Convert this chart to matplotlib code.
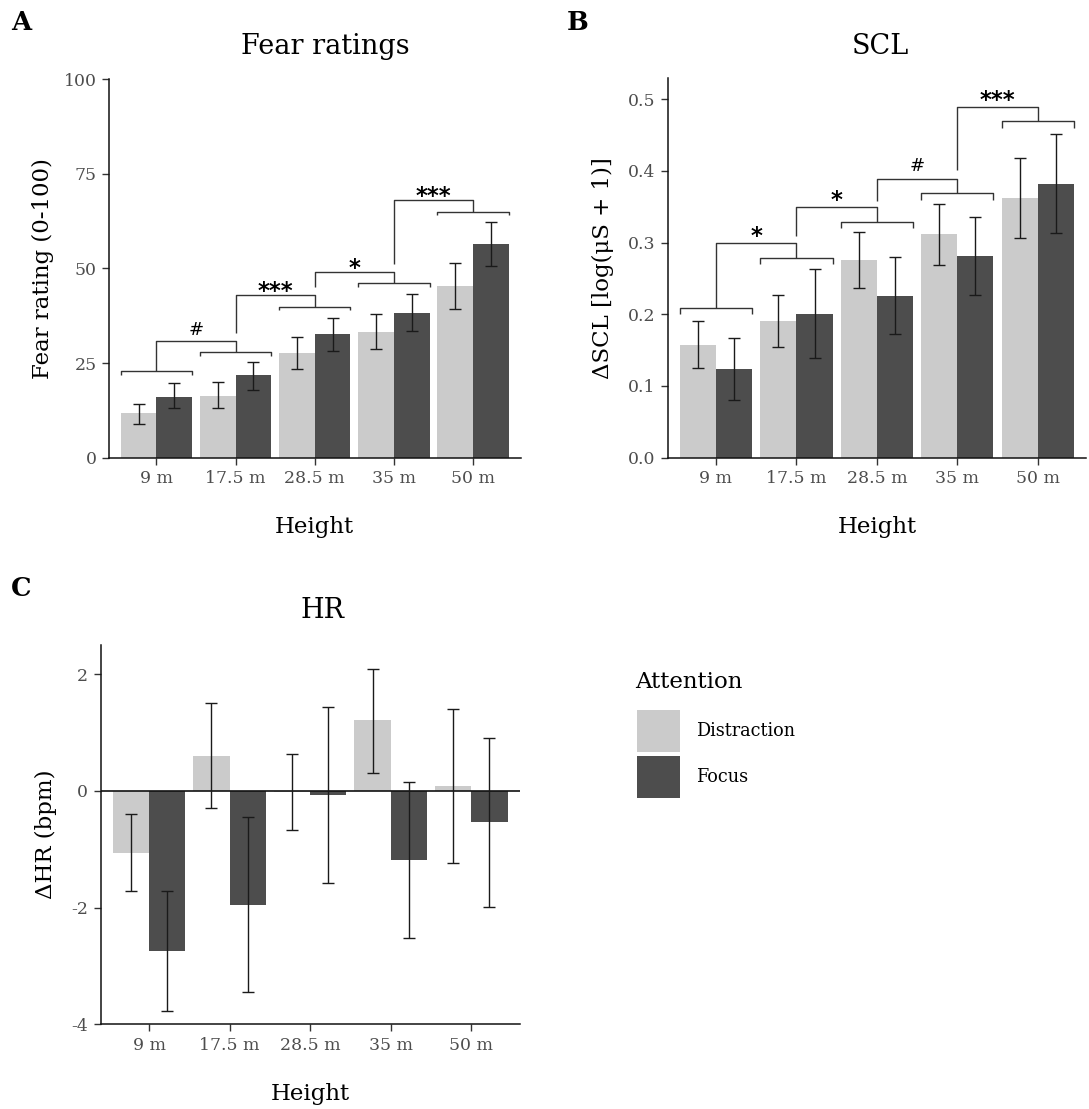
import matplotlib
matplotlib.use("Agg")
import matplotlib.pyplot as plt
import numpy as np
from matplotlib.patches import Patch

heights = ["9 m", "17.5 m", "28.5 m", "35 m", "50 m"]

# Fear ratings (0-100): bar means and error-bar limits
fear_dis = [11.7, 16.4, 27.6, 33.3, 45.4]
fear_dis_lo = [9.0, 13.0, 23.3, 28.8, 39.3]
fear_dis_hi = [14.3, 20.0, 32.0, 37.9, 51.5]
fear_foc = [16.1, 21.8, 32.6, 38.1, 56.4]
fear_foc_lo = [13.0, 18.0, 28.3, 33.4, 50.6]
fear_foc_hi = [19.6, 25.4, 37.0, 43.2, 62.3]

# SCL change [log(uS + 1)]
scl_dis = [0.157, 0.191, 0.276, 0.312, 0.362]
scl_dis_lo = [0.125, 0.154, 0.237, 0.269, 0.307]
scl_dis_hi = [0.190, 0.227, 0.314, 0.354, 0.418]
scl_foc = [0.123, 0.201, 0.226, 0.281, 0.381]
scl_foc_lo = [0.081, 0.139, 0.172, 0.227, 0.313]
scl_foc_hi = [0.167, 0.263, 0.280, 0.336, 0.451]

# HR change (bpm)
hr_dis = [-1.06, 0.60, -0.015, 1.21, 0.086]
hr_dis_lo = [-1.72, -0.30, -0.67, 0.31, -1.23]
hr_dis_hi = [-0.40, 1.51, 0.64, 2.09, 1.40]
hr_foc = [-2.74, -1.95, -0.07, -1.18, -0.54]
hr_foc_lo = [-3.78, -3.45, -1.58, -2.52, -1.99]
hr_foc_hi = [-1.71, -0.44, 1.43, 0.16, 0.90]

# significance brackets between neighbouring heights
fear_sig = ["#", "***", "*", "***"]
fear_grp_y = [22.9, 27.9, 39.9, 46.0, 65.0]
fear_pair_y = [30.9, 43.0, 49.0, 68.0]
fear_pair_left = [22.9, 32.9, 45.0, 51.1]

scl_sig = ["*", "*", "#", "***"]
scl_grp_y = [0.2093, 0.279, 0.329, 0.369, 0.469]
scl_pair_y = [0.299, 0.349, 0.389, 0.489]
scl_pair_left = [0.2093, 0.3097, 0.3586, 0.4005]

LIGHT = "#CBCBCB"
DARK = "#4D4D4D"
TICK_GREY = "#4D4D4D"
W = 0.45

plt.rcParams["font.family"] = ["DejaVu Serif"]

fig = plt.figure(figsize=(10.89, 11.09), dpi=100)
FW, FH = 1089, 1109


def px_axes(left, top, right, bottom):
    return fig.add_axes([left / FW, 1 - bottom / FH, (right - left) / FW, (bottom - top) / FH])


def style(ax, ylim, yticks, yticklabels):
    x = np.arange(1, 6)
    ax.set_xlim(0.4, 5.6)
    ax.set_ylim(*ylim)
    ax.set_xticks(x)
    ax.set_xticklabels(heights)
    ax.set_yticks(yticks)
    ax.set_yticklabels(yticklabels)
    for s in ("top", "right"):
        ax.spines[s].set_visible(False)
    for s in ("left", "bottom"):
        ax.spines[s].set_linewidth(1.1)
        ax.spines[s].set_color("#111111")
    ax.tick_params(length=5, width=1.0, color="#333333", labelcolor=TICK_GREY,
                   labelsize=12.4, pad=4)


def bars(ax, dis, dis_lo, dis_hi, foc, foc_lo, foc_hi):
    x = np.arange(1, 6)
    for off, m, lo, hi, col in ((-W / 2, dis, dis_lo, dis_hi, LIGHT),
                                (W / 2, foc, foc_lo, foc_hi, DARK)):
        m, lo, hi = np.asarray(m), np.asarray(lo), np.asarray(hi)
        ax.bar(x + off, m, W, color=col, zorder=1)
        ax.errorbar(x + off, m, yerr=[m - lo, hi - m], fmt="none", ecolor="#1a1a1a",
                    elinewidth=1.0, capsize=4.3, capthick=1.0, zorder=3)


def brackets(ax, grp_y, pair_y, pair_left, labels, tip, star_off, hash_off):
    x = np.arange(1, 6)
    kw = dict(color="#333333", lw=1.0, solid_capstyle="butt", zorder=4, clip_on=False)
    for xi, y in zip(x, grp_y):
        ax.plot([xi - 0.45, xi - 0.45, xi + 0.45, xi + 0.45], [y - tip, y, y, y - tip], **kw)
    for i, (y, yl, lab) in enumerate(zip(pair_y, pair_left, labels)):
        x0, x1 = x[i], x[i + 1]
        ax.plot([x0, x0, x1, x1], [yl, y, y, grp_y[i + 1]], **kw)
        if lab == "#":
            ax.annotate(lab, ((x0 + x1) / 2, y), xytext=(0, hash_off), textcoords="offset points",
                        ha="center", va="center", family="DejaVu Sans", fontsize=13)
        else:
            ax.annotate(lab, ((x0 + x1) / 2, y), xytext=(0, star_off), textcoords="offset points",
                        ha="center", va="center", family="DejaVu Sans", fontsize=16.5,
                        fontweight="bold")


# A: fear ratings
axA = px_axes(109, 79, 520.6, 457.7)
bars(axA, fear_dis, fear_dis_lo, fear_dis_hi, fear_foc, fear_foc_lo, fear_foc_hi)
style(axA, (0, 100), [0, 25, 50, 75, 100], ["0", "25", "50", "75", "100"])
brackets(axA, fear_grp_y, fear_pair_y, fear_pair_left, fear_sig, 1.0, 2.5, 7.6)
axA.set_xlabel("Height", fontsize=16.5, labelpad=21)
axA.set_ylabel("Fear rating (0-100)", fontsize=16.5, labelpad=7)

# B: skin conductance level
axB = px_axes(667.7, 78.3, 1086, 457.7)
bars(axB, scl_dis, scl_dis_lo, scl_dis_hi, scl_foc, scl_foc_lo, scl_foc_hi)
style(axB, (0, 0.529), [0, 0.1, 0.2, 0.3, 0.4, 0.5], ["0.0", "0.1", "0.2", "0.3", "0.4", "0.5"])
brackets(axB, scl_grp_y, scl_pair_y, scl_pair_left, scl_sig, 0.0093, 5.0, 9.5)
axB.set_xlabel("Height", fontsize=16.5, labelpad=21)
axB.set_ylabel("ΔSCL [log(μS + 1)]", fontsize=16.5, labelpad=10)

# C: heart rate
axC = px_axes(100.7, 645, 519.6, 1024.3)
bars(axC, hr_dis, hr_dis_lo, hr_dis_hi, hr_foc, hr_foc_lo, hr_foc_hi)
axC.axhline(0, color="#111111", lw=1.2, zorder=2)
style(axC, (-4, 2.5), [-4, -2, 0, 2], ["-4", "-2", "0", "2"])
axC.set_xlabel("Height", fontsize=16.5, labelpad=21)
axC.set_ylabel("ΔHR (bpm)", fontsize=16.5, labelpad=10)

# panel titles and letters
fig.text(325 / FW, 1 - 47 / FH, "Fear ratings", ha="center", va="center", fontsize=19.5)
fig.text(880 / FW, 1 - 47 / FH, "SCL", ha="center", va="center", fontsize=19.5)
fig.text(322 / FW, 1 - 610 / FH, "HR", ha="center", va="center", fontsize=19.5)
for lab, (lx, ly) in zip("ABC", [(11, 23), (567, 23), (11, 589)]):
    fig.text(lx / FW, 1 - ly / FH, lab, ha="left", va="center", fontsize=18.5, fontweight="bold")

# legend: title placed on its own so the gap to the keys can be set
fig.text(635 / FW, 1 - 682 / FH, "Attention", ha="left", va="center", fontsize=16.5)
handles = [Patch(facecolor=LIGHT, label="Distraction"), Patch(facecolor=DARK, label="Focus")]
fig.legend(handles=handles, loc="upper left",
           bbox_to_anchor=(637 / FW, 1 - 710 / FH), frameon=False, fontsize=12.7,
           borderpad=0, handlelength=2.45, handleheight=3.29, handletextpad=0.9,
           labelspacing=0.2, borderaxespad=0)

fig.savefig("out.png", dpi=100)
